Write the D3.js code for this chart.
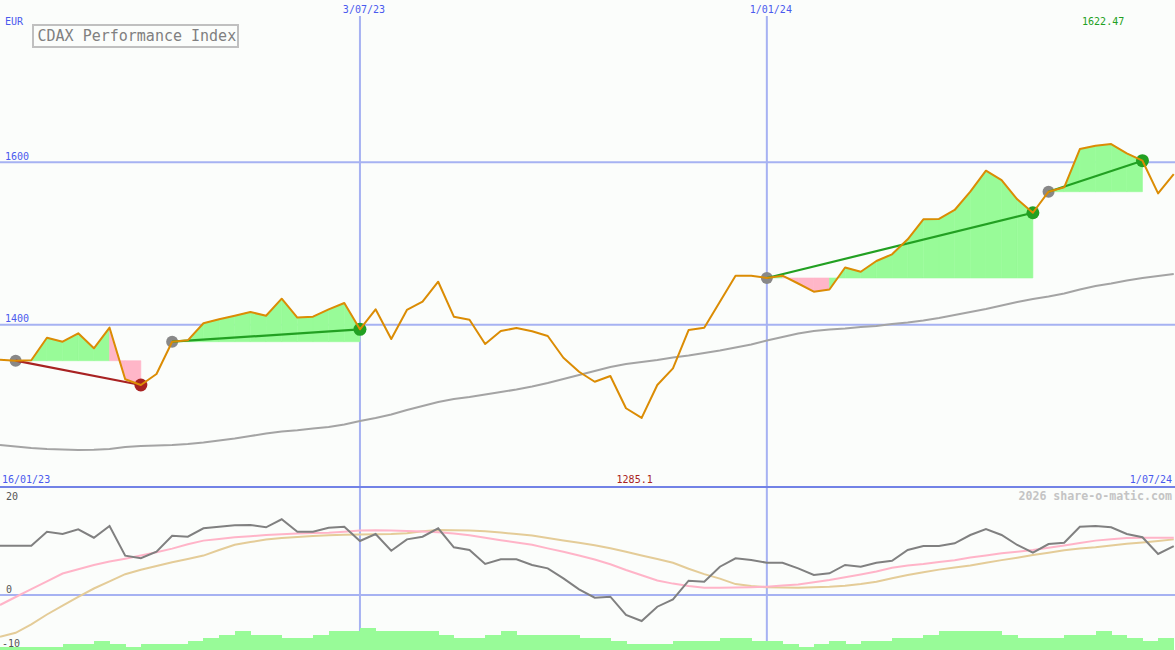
<!DOCTYPE html>
<html>
<head>
<meta charset="utf-8">
<script src="https://cdn.jsdelivr.net/npm/d3@7/dist/d3.min.js"></script>
<style>
  html, body { margin: 0; padding: 0; background: #fbfdfb; }
  svg { display: block; }
  text { font-family: "DejaVu Sans Mono", monospace; }
</style>
</head>
<body>
<svg id="chart" width="1175" height="650"></svg>
<script>
// ---------- DATA ----------
const title = "CDAX Performance Index";
const currency = "EUR";
const startLabel = "16/01/23";
const endLabel = "1/07/24";
const tickIdx = [23, 49];
const tickLabels = ["3/07/23", "1/01/24"];
const priceTicks = [1600, 1400];
const oscTicks = [20, 0, -10];
const copyright = "2026 share-o-matic.com";

// weekly closes
const price = [
  1356.8, 1355.6, 1356.1, 1383.9, 1379.0, 1389.4, 1370.9, 1396.3, 1332.7, 1325.7,
  1339.2, 1379.0, 1380.7, 1401.7, 1406.6, 1411.0, 1415.6, 1411.0, 1432.0, 1408.8,
  1409.8, 1418.9, 1426.7, 1394.3, 1418.9, 1382.3, 1418.1, 1428.3, 1452.9, 1409.8,
  1406.1, 1376.2, 1392.2, 1395.9, 1391.8, 1386.0, 1359.2, 1342.0, 1329.7, 1336.8,
  1297.0, 1285.1, 1325.7, 1346.2, 1393.4, 1396.3, 1428.3, 1460.3, 1460.3, 1457.5,
  1460.3, 1450.7, 1440.6, 1443.3, 1470.4, 1465.2, 1478.4, 1486.7, 1505.2, 1529.8,
  1530.2, 1541.3, 1563.8, 1589.7, 1578.2, 1554.4, 1537.9, 1563.8, 1569.2, 1616.4,
  1620.5, 1622.47, 1611.1, 1602.0, 1561.8, 1585.6
];
// long moving average
const movingAvg = [
  1251.7, 1249.9, 1248.0, 1246.8, 1246.2, 1245.6, 1245.8, 1246.8, 1249.3, 1250.5,
  1251.1, 1251.7, 1253.0, 1254.8, 1257.3, 1259.8, 1262.8, 1265.9, 1268.4, 1269.9,
  1272.1, 1273.9, 1277.0, 1281.3, 1285.0, 1289.3, 1294.9, 1299.8, 1304.7, 1308.4,
  1310.9, 1314.0, 1317.0, 1320.1, 1323.8, 1328.1, 1333.1, 1338.0, 1342.9, 1347.8,
  1351.5, 1354.0, 1356.5, 1359.5, 1362.0, 1365.1, 1368.2, 1371.9, 1375.6, 1380.5,
  1384.8, 1389.1, 1392.2, 1394.0, 1395.3, 1397.1, 1398.4, 1400.8, 1402.7, 1405.1,
  1408.2, 1411.9, 1415.6, 1419.3, 1423.6, 1427.9, 1431.6, 1434.7, 1438.4, 1443.3,
  1447.6, 1450.7, 1454.4, 1457.5, 1460.0, 1462.4
];
// oscillator (bottom panel)
const momentum = [
  9.13, 9.13, 9.13, 11.72, 11.3, 12.17, 10.61, 12.78, 7.28, 6.8,
  8.02, 10.98, 10.8, 12.35, 12.65, 12.9, 12.96, 12.54, 14.02, 11.72,
  11.72, 12.46, 12.65, 10.0, 11.3, 8.2, 10.31, 10.8, 12.35, 8.83,
  8.33, 5.74, 6.61, 6.61, 5.56, 4.94, 3.09, 1.06, -0.5, -0.31,
  -3.7, -4.81, -2.17, -0.8, 2.65, 2.46, 5.24, 6.8, 6.48, 5.98,
  5.98, 4.94, 3.7, 4.02, 5.56, 5.24, 5.98, 6.35, 8.33, 9.07,
  9.07, 9.57, 11.11, 12.22, 11.11, 9.26, 7.83, 9.44, 9.69, 12.65,
  12.78, 12.54, 11.3, 10.69, 7.59, 9.07
];
const signalFast = [
  -1.85, -0.37, 1.07, 2.54, 3.98, 4.76, 5.56, 6.19, 6.72, 7.3,
  7.91, 8.59, 9.39, 10.07, 10.39, 10.7, 10.89, 11.09, 11.26, 11.41,
  11.48, 11.52, 11.7, 11.94, 11.98, 11.94, 11.87, 11.78, 11.63, 11.37,
  11.06, 10.59, 10.15, 9.74, 9.3, 8.63, 8.0, 7.31, 6.57, 5.69,
  4.63, 3.67, 2.69, 2.11, 1.67, 1.35, 1.35, 1.37, 1.44, 1.54,
  1.76, 1.96, 2.37, 2.78, 3.28, 3.8, 4.37, 5.04, 5.48, 5.76,
  6.11, 6.44, 6.93, 7.33, 7.74, 8.02, 8.33, 8.76, 9.17, 9.63,
  10.07, 10.33, 10.54, 10.61, 10.61, 10.61
];
const signalSlow = [
  -7.72, -7.0, -5.43, -3.61, -1.98, -0.35, 1.2, 2.54, 3.85, 4.67,
  5.37, 6.06, 6.65, 7.3, 8.33, 9.31, 9.8, 10.28, 10.54, 10.76,
  10.93, 11.07, 11.15, 11.22, 11.26, 11.28, 11.43, 11.81, 12.04, 12.0,
  11.93, 11.8, 11.56, 11.3, 11.0, 10.56, 10.11, 9.67, 9.22, 8.65,
  8.0, 7.33, 6.65, 5.98, 4.87, 3.87, 3.04, 2.02, 1.65, 1.44,
  1.37, 1.35, 1.43, 1.52, 1.72, 2.04, 2.44, 3.09, 3.69, 4.22,
  4.7, 5.09, 5.48, 5.98, 6.46, 6.91, 7.39, 7.83, 8.28, 8.59,
  8.83, 9.15, 9.48, 9.72, 10.0, 10.3
];
// bottom histogram (one value per week interval)
const histo = [
  1, 1, 1, 1, 2, 2, 3, 2, 1, 2,
  2, 2, 3, 4, 5, 6, 5, 5, 4, 4,
  5, 6, 6, 7, 6, 6, 6, 6, 5, 4,
  4, 5, 6, 5, 5, 5, 5, 4, 4, 3,
  2, 2, 2, 3, 3, 3, 4, 4, 3, 3,
  2, 1, 2, 3, 2, 3, 3, 4, 4, 5,
  6, 6, 6, 6, 5, 4, 4, 4, 5, 5,
  6, 5, 4, 3, 4
];
// trades: entry / exit week index
const tradeEntry = [1, 11, 49, 67];
const tradeExit  = [9, 23, 66, 73];

// ---------- STYLE ----------
const C = {
  grid: "#a6b2f2", divider: "#7282e6", axisText: "#4a5aee",
  price: "#db8c04", ma: "#a4a4a4", fillUp: "#98fb98", fillDown: "#ffb6c8",
  win: "#22a022", loss: "#a82222", entry: "#888888",
  mom: "#808080", fast: "#ffb4c8", slow: "#e4cc98", histo: "#98fb98"
};

const svg = d3.select("#chart");
const W = 1175, H = 650;
const n = price.length;

const x = d3.scaleLinear().domain([0, n - 1]).range([0, 1173.75]);
const y = d3.scaleLinear().domain([1200, 1800]).range([487, 0]);
const yo = d3.scaleLinear().domain([-10, 20]).range([649, 487]);
const yh = d3.scaleLinear().domain([0, 10]).range([650, 619]);

svg.append("rect").attr("width", W).attr("height", H).attr("fill", "#fbfdfb");

// ---------- GRID ----------
const grid = svg.append("g");
grid.selectAll("line.h").data(priceTicks).join("line")
  .attr("x1", 0).attr("x2", W).attr("y1", d => y(d)).attr("y2", d => y(d))
  .attr("stroke", C.grid).attr("stroke-width", 2);
grid.selectAll("line.v").data(tickIdx).join("line")
  .attr("x1", d => x(d)).attr("x2", d => x(d)).attr("y1", 16).attr("y2", H)
  .attr("stroke", C.grid).attr("stroke-width", 2);
grid.append("line").attr("x1", 0).attr("x2", W).attr("y1", yo(0)).attr("y2", yo(0))
  .attr("stroke", C.grid).attr("stroke-width", 2);
grid.append("line").attr("x1", 0).attr("x2", W).attr("y1", 487).attr("y2", 487)
  .attr("stroke", C.divider).attr("stroke-width", 2);

// ---------- TRADE FILLS ----------
const fills = svg.append("g");
const poly = d3.line();
tradeEntry.forEach((e, k) => {
  const base = price[e];
  for (let i = e; i < tradeExit[k]; i++) {
    const pts = [[x(i), y(base)], [x(i), y(price[i])], [x(i + 1), y(price[i + 1])], [x(i + 1), y(base)]];
    const col = price[i + 1] >= base ? C.fillUp : C.fillDown;
    fills.append("path").attr("d", poly(pts) + "Z")
      .attr("fill", col).attr("stroke", col).attr("stroke-width", 0.6);
  }
});

// ---------- MOVING AVERAGE ----------
const lineGen = (arr, ys) => d3.line().x((d, i) => x(i)).y(d => ys(d))(arr);
svg.append("path").attr("d", lineGen(movingAvg, y))
  .attr("fill", "none").attr("stroke", C.ma).attr("stroke-width", 2);

// ---------- DOTS + TRADE LINES ----------
const tr = svg.append("g");
tradeEntry.forEach((e, k) => {
  const xi = tradeExit[k];
  const win = price[xi] >= price[e];
  tr.append("circle").attr("cx", x(e)).attr("cy", y(price[e])).attr("r", 6).attr("fill", C.entry);
  tr.append("circle").attr("cx", x(xi)).attr("cy", y(price[xi])).attr("r", 6.5).attr("fill", win ? C.win : C.loss);
  tr.append("line").attr("x1", x(e)).attr("y1", y(price[e])).attr("x2", x(xi)).attr("y2", y(price[xi]))
    .attr("stroke", win ? C.win : C.loss).attr("stroke-width", 2.2);
});

// ---------- PRICE ----------
svg.append("path").attr("d", lineGen(price, y))
  .attr("fill", "none").attr("stroke", C.price).attr("stroke-width", 2).attr("stroke-linejoin", "round");

// ---------- BOTTOM PANEL ----------
svg.append("g").selectAll("rect").data(histo).join("rect")
  .attr("x", (d, i) => x(i)).attr("width", (d, i) => x(i + 1) - x(i) + 0.5)
  .attr("y", d => yh(d)).attr("height", d => yh(0) - yh(d))
  .attr("fill", C.histo).attr("shape-rendering", "crispEdges");

svg.append("path").attr("d", lineGen(signalSlow, yo))
  .attr("fill", "none").attr("stroke", C.slow).attr("stroke-width", 2);
svg.append("path").attr("d", lineGen(signalFast, yo))
  .attr("fill", "none").attr("stroke", C.fast).attr("stroke-width", 2);
svg.append("path").attr("d", lineGen(momentum, yo))
  .attr("fill", "none").attr("stroke", C.mom).attr("stroke-width", 2);

// ---------- TEXT ----------
const t = svg.append("g").attr("font-size", 10);
t.append("text").attr("x", 5).attr("y", 25).attr("fill", C.axisText).text(currency);
t.selectAll("text.pt").data(priceTicks).join("text").attr("class", "pt")
  .attr("x", 5).attr("y", d => y(d) - 2.5).attr("fill", C.axisText).text(d => d);
t.selectAll("text.dt").data(tickIdx).join("text").attr("class", "dt")
  .attr("x", d => x(d) + 4).attr("y", 13).attr("text-anchor", "middle")
  .attr("fill", C.axisText).text((d, i) => tickLabels[i]);
t.append("text").attr("x", 2).attr("y", 483).attr("fill", C.axisText).text(startLabel);
t.append("text").attr("x", 1172).attr("y", 483).attr("text-anchor", "end").attr("fill", C.axisText).text(endLabel);

const maxI = d3.maxIndex(price), minI = d3.minIndex(price);
t.append("text").attr("x", x(maxI) - 8).attr("y", 25).attr("text-anchor", "middle")
  .attr("fill", C.win).text(price[maxI]);
t.append("text").attr("x", x(minI) - 7).attr("y", 483).attr("text-anchor", "middle")
  .attr("fill", C.loss).text(price[minI]);

t.selectAll("text.ot").data(oscTicks).join("text").attr("class", "ot")
  .attr("x", d => d < 0 ? 2 : 6)
  .attr("y", d => d === 20 ? 499.5 : yo(d) - 2.5)
  .attr("fill", "#555555").text(d => d);

svg.append("text").attr("x", 1172).attr("y", 500).attr("text-anchor", "end")
  .attr("font-size", 11.6).attr("font-weight", "bold").attr("fill", "#c4c4c4").text(copyright);

// title box
svg.append("rect").attr("x", 33).attr("y", 25).attr("width", 205).attr("height", 22)
  .attr("fill", "#fbfdfb").attr("stroke", "#c0c0c0").attr("stroke-width", 2);
svg.append("text").attr("x", 37.5).attr("y", 41).attr("font-size", 15)
  .attr("fill", "#808080").text(title);
</script>
</body>
</html>
